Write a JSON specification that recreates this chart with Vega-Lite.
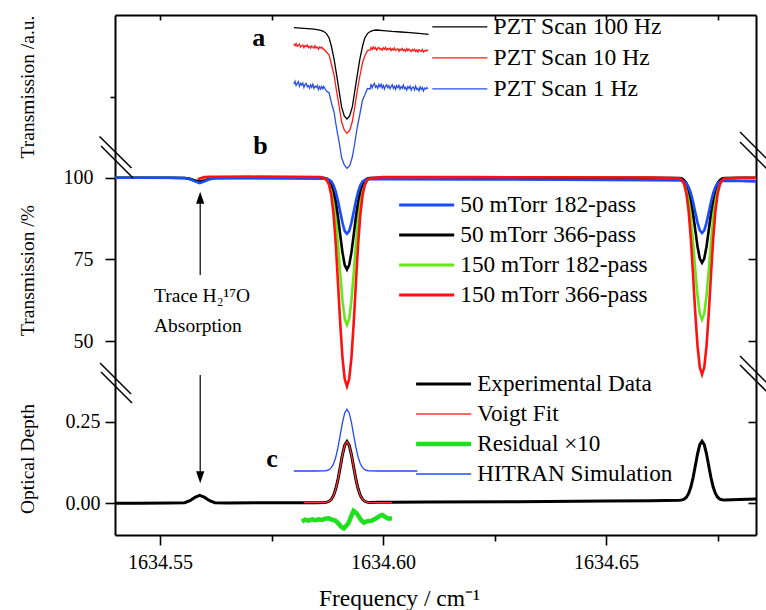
{
"$schema": "https://vega.github.io/schema/vega-lite/v6.json",
"background": "white",
"padding": {"left": 16, "top": 14, "right": 0, "bottom": 0},
"bounds": "flush",
"spacing": 0,
"config": {
  "view": {"stroke": null},
  "font": "Liberation Serif",
  "axis": {"domainColor": "black", "domainWidth": 2, "tickColor": "black", "tickWidth": 1.6, "labelColor": "black", "labelFont": "Liberation Serif", "labelFontSize": 20, "titleFont": "Liberation Serif", "titleFontSize": 19.5, "titleFontWeight": "normal", "titleColor": "black", "grid": false},
  "legend": {"labelFont": "Liberation Serif", "labelFontSize": 23, "labelColor": "black", "symbolType": "M-5,0H5", "symbolSize": 121, "rowPadding": 6, "padding": 0, "labelLimit": 400}
},
"resolve": {"scale": {"color": "independent", "strokeWidth": "independent", "y": "independent", "x": "shared"}, "legend": {"color": "independent", "strokeWidth": "independent"}},
"vconcat": [
{
  "width": 641, "height": 143,
  "data": {"values": [
    {"f":1634.5800,"K":13.03},
    {"f":1634.5815,"K":12.98},
    {"f":1634.5830,"K":12.93},
    {"f":1634.5845,"K":12.88},
    {"f":1634.5855,"K":12.82},
    {"f":1634.5862,"K":12.74},
    {"f":1634.58000,"R":11.42,"B":7.37},
    {"f":1634.58025,"R":11.24,"B":7.67},
    {"f":1634.58050,"R":11.45,"B":7.25},
    {"f":1634.58075,"R":11.16,"B":7.46},
    {"f":1634.58100,"R":11.28,"B":7.64},
    {"f":1634.58125,"R":11.39,"B":7.17},
    {"f":1634.58150,"R":11.10,"B":7.48},
    {"f":1634.58175,"R":11.21,"B":7.29},
    {"f":1634.58200,"R":11.30,"B":7.50},
    {"f":1634.58225,"R":11.03,"B":7.06},
    {"f":1634.58250,"R":11.25,"B":7.36},
    {"f":1634.58275,"R":11.14,"B":7.46},
    {"f":1634.58300,"R":11.29,"B":7.12},
    {"f":1634.58325,"R":11.05,"B":7.24},
    {"f":1634.58350,"R":11.17,"B":6.98},
    {"f":1634.58375,"R":10.98,"B":7.33},
    {"f":1634.58400,"R":11.21,"B":7.08},
    {"f":1634.58425,"R":11.09,"B":7.38},
    {"f":1634.58450,"R":10.99,"B":6.96},
    {"f":1634.58475,"R":11.22,"B":7.17},
    {"f":1634.58500,"R":11.01,"B":7.07},
    {"f":1634.58525,"R":11.10,"B":7.26},
    {"f":1634.58550,"R":10.88,"B":6.84},
    {"f":1634.58575,"R":11.10,"B":7.13},
    {"f":1634.58600,"R":10.99,"B":6.88},
    {"f":1634.58625,"R":11.10,"B":7.16},
    {"f":1634.58650,"R":10.90,"B":6.91},
    {"f":1634.5867,"K":12.64,"R":10.9,"B":7.15},
    {"f":1634.5873,"K":12.44,"R":10.6,"B":6.7},
    {"f":1634.5879,"K":12.00,"R":10.3,"B":6.5},
    {"f":1634.5884,"K":11.20,"R":9.4,"B":5.55},
    {"f":1634.5890,"K":9.91,"R":8.3,"B":4.6},
    {"f":1634.5896,"K":8.26,"R":6.6,"B":2.9},
    {"f":1634.5902,"K":6.54,"R":5.05,"B":1.45},
    {"f":1634.5907,"K":5.11,"R":3.6,"B":0.05},
    {"f":1634.5913,"K":4.21,"R":2.8,"B":-0.7},
    {"f":1634.5919,"K":3.90,"R":2.47,"B":-1.03},
    {"f":1634.5925,"K":4.21,"R":2.75,"B":-0.8},
    {"f":1634.5931,"K":5.11,"R":3.65,"B":0.1},
    {"f":1634.5936,"K":6.54,"R":4.95,"B":1.35},
    {"f":1634.5942,"K":8.26,"R":6.7,"B":3.05},
    {"f":1634.5948,"K":9.91,"R":8.2,"B":4.4},
    {"f":1634.5954,"K":11.20,"R":9.55,"B":5.8},
    {"f":1634.5959,"K":12.00,"R":10.2,"B":6.3},
    {"f":1634.5965,"K":12.44,"R":10.75,"B":6.95},
    {"f":1634.5971,"K":12.64,"R":10.8,"B":6.9},
    {"f":1634.5978,"K":12.76},
    {"f":1634.5985,"K":12.8},
    {"f":1634.6000,"K":12.74},
    {"f":1634.6020,"K":12.66},
    {"f":1634.6040,"K":12.6},
    {"f":1634.6060,"K":12.53},
    {"f":1634.6080,"K":12.46},
    {"f":1634.6102,"K":12.37},
    {"f":1634.59730,"R":11.05,"B":7.38},
    {"f":1634.59755,"R":10.84,"B":7.02},
    {"f":1634.59780,"R":11.11,"B":7.30},
    {"f":1634.59805,"R":10.92,"B":7.45},
    {"f":1634.59830,"R":11.05,"B":7.08},
    {"f":1634.59855,"R":10.79,"B":7.23},
    {"f":1634.59880,"R":10.99,"B":6.97},
    {"f":1634.59905,"R":11.06,"B":7.36},
    {"f":1634.59930,"R":10.85,"B":7.12},
    {"f":1634.59955,"R":10.94,"B":7.38},
    {"f":1634.59980,"R":10.78,"B":7.01},
    {"f":1634.60005,"R":11.02,"B":7.26},
    {"f":1634.60030,"R":10.86,"B":6.90},
    {"f":1634.60055,"R":11.06,"B":7.19},
    {"f":1634.60080,"R":10.79,"B":7.33},
    {"f":1634.60105,"R":10.93,"B":7.04},
    {"f":1634.60130,"R":10.86,"B":7.25},
    {"f":1634.60155,"R":11.00,"B":6.94},
    {"f":1634.60180,"R":10.74,"B":7.13},
    {"f":1634.60205,"R":10.94,"B":7.33},
    {"f":1634.60230,"R":10.80,"B":6.96},
    {"f":1634.60255,"R":11.00,"B":7.16},
    {"f":1634.60280,"R":10.74,"B":6.87},
    {"f":1634.60305,"R":10.86,"B":7.24},
    {"f":1634.60330,"R":10.93,"B":7.04},
    {"f":1634.60355,"R":10.68,"B":7.27},
    {"f":1634.60380,"R":10.89,"B":6.89},
    {"f":1634.60405,"R":10.78,"B":7.14},
    {"f":1634.60430,"R":10.95,"B":6.97},
    {"f":1634.60455,"R":10.72,"B":7.29},
    {"f":1634.60480,"R":10.84,"B":6.92},
    {"f":1634.60505,"R":10.68,"B":7.07},
    {"f":1634.60530,"R":10.95,"B":6.79},
    {"f":1634.60555,"R":10.72,"B":7.15},
    {"f":1634.60580,"R":10.89,"B":6.96},
    {"f":1634.60605,"R":10.77,"B":7.18},
    {"f":1634.60630,"R":10.64,"B":6.80},
    {"f":1634.60655,"R":10.85,"B":7.05},
    {"f":1634.60680,"R":10.72,"B":7.10},
    {"f":1634.60705,"R":10.88,"B":6.81},
    {"f":1634.60730,"R":10.65,"B":7.19},
    {"f":1634.60755,"R":10.80,"B":6.86},
    {"f":1634.60780,"R":10.59,"B":6.96},
    {"f":1634.60805,"R":10.83,"B":6.71},
    {"f":1634.60830,"R":10.75,"B":7.11},
    {"f":1634.60855,"R":10.65,"B":6.86},
    {"f":1634.60880,"R":10.86,"B":7.04},
    {"f":1634.60905,"R":10.60,"B":6.72},
    {"f":1634.60930,"R":10.75,"B":6.99},
    {"f":1634.60955,"R":10.68,"B":6.89},
    {"f":1634.60980,"R":10.81,"B":7.05},
    {"f":1634.61005,"R":10.70,"B":6.92}
  ]},
  "encoding": {"x": {"field": "f", "type": "quantitative", "scale": {"domain": [1634.5399, 1634.6836], "nice": false, "zero": false}, "axis": {"orient": "top", "values": [1634.55, 1634.575, 1634.6, 1634.625, 1634.65, 1634.675], "labels": false, "tickSize": -5, "title": null}}},
  "layer": [
    {
      "transform": [{"fold": ["K", "R", "B"], "as": ["s", "v"]}, {"filter": "isValid(datum.v)"}],
      "mark": {"type": "line", "strokeWidth": 1.3},
      "encoding": {
        "y": {"field": "v", "type": "quantitative", "scale": {"domain": [0, 14.3], "nice": false, "zero": false}, "axis": {"orient": "left", "values": [6.1], "labels": false, "tickSize": 5, "title": "Transmission /a.u.", "titleX": -82, "titleBaseline": "alphabetic"}},
        "color": {"field": "s", "type": "nominal", "scale": {"domain": ["K", "R", "B"], "range": ["#000000", "#ff1a1a", "#2b4fe8"]}, "legend": {"orient": "none", "legendX": 333, "legendY": 0, "title": null, "symbolStrokeWidth": 1.3, "labelOffset": 22, "labelFontSize": 23.6, "labelExpr": "datum.label == 'K' ? 'PZT Scan 100 Hz' : datum.label == 'R' ? 'PZT Scan 10 Hz' : 'PZT Scan 1 Hz'"}}
      }
    },
    {
      "data": {"values": [{"f": 1634.57213, "v": 11.97, "t": "a"}, {"f": 1634.57250, "v": 1.2, "t": "b"}]},
      "mark": {"type": "text", "font": "Liberation Serif", "fontSize": 26, "fontWeight": "bold", "align": "center", "baseline": "middle", "color": "black"},
      "encoding": {
        "y": {"field": "v", "type": "quantitative", "scale": {"domain": [0, 14.3], "nice": false, "zero": false}, "axis": {"orient": "right", "labels": false, "ticks": false, "title": null}},
        "text": {"field": "t"}
      }
    }
  ],
  "resolve": {"axis": {"y": "independent"}}
},
{
  "width": 641, "height": 224,
  "encoding": {"x": {"field": "f", "type": "quantitative", "scale": {"domain": [1634.5399, 1634.6836], "nice": false, "zero": false}, "axis": null}},
  "layer": [
    {
      "data": {"values": [
        {"f":1634.5399,"B":100.0,"K":100.0,"G":100.0},
        {"f":1634.5450,"B":100.0,"K":100.0,"G":100.0},
        {"f":1634.5520,"B":100.0,"K":100.0,"G":99.95},
        {"f":1634.5555,"B":99.95,"K":99.95,"G":99.9},
        {"f":1634.5567,"B":99.6,"K":99.7,"G":99.6},
        {"f":1634.5578,"B":98.9,"K":99.2,"G":99.1},
        {"f":1634.5585,"R":99.5},
        {"f":1634.5589,"B":98.4,"K":98.9,"G":98.7,"R":99.8},
        {"f":1634.5600,"B":98.9,"K":99.2,"G":99.1,"R":100.2},
        {"f":1634.5611,"B":99.6,"K":99.7,"G":99.6,"R":100.3},
        {"f":1634.5623,"B":99.85,"K":99.95,"G":99.85,"R":100.3},
        {"f":1634.5700,"B":99.85,"K":100.1,"G":99.9,"R":100.35},
        {"f":1634.5800,"B":99.8,"K":100.1,"G":99.9,"R":100.3},
        {"f":1634.5860,"B":99.75,"K":100.05,"G":99.85,"R":100.25},
        {"f":1634.5869,"B":99.7,"K":99.9,"G":99.75,"R":99.8},
        {"f":1634.5874,"B":99.6,"K":99.7,"G":99.5,"R":99.2},
        {"f":1634.5879,"B":99.4,"K":99.3,"G":98.7,"R":97.8},
        {"f":1634.5884,"B":98.9,"K":98.2,"G":96.8,"R":94.6},
        {"f":1634.5889,"B":97.7,"K":96.2,"G":93.2,"R":88.8},
        {"f":1634.5894,"B":95.7,"K":92.8,"G":87.4,"R":79.5},
        {"f":1634.5899,"B":92.9,"K":88.0,"G":79.4,"R":67.6},
        {"f":1634.5904,"B":89.5,"K":82.4,"G":70.5,"R":55.2},
        {"f":1634.5909,"B":86.2,"K":77.1,"G":62.4,"R":44.9},
        {"f":1634.5914,"B":83.7,"K":73.3,"G":56.9,"R":38.4},
        {"f":1634.5919,"B":82.9,"K":71.9,"G":55.0,"R":36.2},
        {"f":1634.5924,"B":83.7,"K":73.3,"G":56.9,"R":38.4},
        {"f":1634.5929,"B":86.2,"K":77.1,"G":62.4,"R":44.9},
        {"f":1634.5934,"B":89.5,"K":82.4,"G":70.5,"R":55.2},
        {"f":1634.5939,"B":92.9,"K":88.0,"G":79.4,"R":67.6},
        {"f":1634.5944,"B":95.7,"K":92.8,"G":87.4,"R":79.5},
        {"f":1634.5949,"B":97.7,"K":96.2,"G":93.2,"R":88.8},
        {"f":1634.5954,"B":98.9,"K":98.2,"G":96.8,"R":94.6},
        {"f":1634.5959,"B":99.3,"K":99.3,"G":98.7,"R":97.8},
        {"f":1634.5964,"B":99.55,"K":99.7,"G":99.4,"R":99.2},
        {"f":1634.5969,"B":99.6,"K":99.9,"G":99.7,"R":99.8},
        {"f":1634.6000,"B":99.6,"K":100.1,"G":99.8,"R":100.25},
        {"f":1634.6200,"B":99.5,"K":100.05,"G":99.65,"R":100.2},
        {"f":1634.6400,"B":99.4,"K":100.0,"G":99.55,"R":100.15},
        {"f":1634.6600,"B":99.3,"K":100.0,"G":99.45,"R":100.1},
        {"f":1634.6665,"B":99.2,"K":99.9,"G":99.4,"R":99.85},
        {"f":1634.6670,"B":99.1,"K":99.8,"G":99.1,"R":99.25},
        {"f":1634.6675,"B":98.85,"K":99.3,"G":98.3,"R":98.0},
        {"f":1634.6680,"B":98.3,"K":98.4,"G":96.6,"R":95.1},
        {"f":1634.6685,"B":97.2,"K":96.5,"G":93.3,"R":89.8},
        {"f":1634.6690,"B":95.3,"K":93.4,"G":87.6,"R":81.2},
        {"f":1634.6695,"B":92.6,"K":89.0,"G":80.1,"R":70.1},
        {"f":1634.6700,"B":89.4,"K":83.9,"G":71.6,"R":58.3},
        {"f":1634.6705,"B":86.2,"K":78.9,"G":63.8,"R":48.4},
        {"f":1634.6710,"B":83.9,"K":75.3,"G":58.4,"R":42.0},
        {"f":1634.6715,"B":83.1,"K":74.0,"G":56.6,"R":39.8},
        {"f":1634.6720,"B":83.9,"K":75.3,"G":58.4,"R":42.0},
        {"f":1634.6725,"B":86.2,"K":78.9,"G":63.8,"R":48.4},
        {"f":1634.6730,"B":89.4,"K":83.9,"G":71.6,"R":58.3},
        {"f":1634.6735,"B":92.6,"K":89.0,"G":80.1,"R":70.1},
        {"f":1634.6740,"B":95.3,"K":93.4,"G":87.6,"R":81.2},
        {"f":1634.6745,"B":97.2,"K":96.5,"G":93.3,"R":89.8},
        {"f":1634.6750,"B":98.3,"K":98.4,"G":96.6,"R":95.1},
        {"f":1634.6755,"B":98.8,"K":99.3,"G":98.3,"R":98.0},
        {"f":1634.6760,"B":99.0,"K":99.8,"G":99.1,"R":99.3},
        {"f":1634.6765,"B":99.05,"K":99.9,"G":99.3,"R":99.8},
        {"f":1634.6800,"B":99.0,"K":100.0,"G":99.35,"R":100.0},
        {"f":1634.6836,"B":98.9,"K":100.0,"G":99.3,"R":100.0}
      ]},
      "transform": [{"fold": ["R", "G", "K", "B"], "as": ["s", "v"]}, {"filter": "isValid(datum.v)"}],
      "mark": {"type": "line", "strokeWidth": 2.6},
      "encoding": {
        "y": {"field": "v", "type": "quantitative", "scale": {"domain": [37.5, 106.06], "nice": false, "zero": false}, "axis": {"orient": "left", "values": [50, 75, 100], "tickSize": 10, "labelPadding": 12, "title": "Transmission /%", "titleX": -82, "titleBaseline": "alphabetic"}},
        "color": {"field": "s", "type": "nominal", "scale": {"domain": ["B", "K", "G", "R"], "range": ["#1a4cff", "#000000", "#66e619", "#ff1010"]}, "legend": {"orient": "none", "legendX": 300, "legendY": 35.3, "title": null, "symbolStrokeWidth": 3, "labelOffset": 22, "labelFontSize": 23.3, "labelExpr": "datum.label == 'B' ? '50 mTorr 182-pass' : datum.label == 'K' ? '50 mTorr 366-pass' : datum.label == 'G' ? '150 mTorr 182-pass' : '150 mTorr 366-pass'"}}
      }
    },
    {
      "data": {"values": [
        {"f": 1634.536437, "f2": 1634.543611, "v": 112.64, "v2": 103.0},
        {"f": 1634.536773, "f2": 1634.543947, "v": 109.73, "v2": 99.94},
        {"f": 1634.536549, "f2": 1634.543499, "v": 43.31, "v2": 33.83},
        {"f": 1634.536773, "f2": 1634.543723, "v": 40.56, "v2": 31.07},
        {"f": 1634.680025, "f2": 1634.686302, "v": 114.02, "v2": 105.45},
        {"f": 1634.680025, "f2": 1634.686302, "v": 110.96, "v2": 102.39},
        {"f": 1634.680025, "f2": 1634.686302, "v": 45.46, "v2": 36.89},
        {"f": 1634.680025, "f2": 1634.686302, "v": 42.70, "v2": 34.14}
      ]},
      "mark": {"type": "rule", "color": "black", "strokeWidth": 1.5},
      "encoding": {
        "x2": {"field": "f2"},
        "y": {"field": "v", "type": "quantitative", "scale": {"domain": [37.5, 106.06], "nice": false, "zero": false}, "axis": {"orient": "right", "values": [50, 75, 100], "tickSize": -8, "labels": false, "title": null}},
        "y2": {"field": "v2"}
      }
    },
    {
      "data": {"values": [{"f": 1634.54865, "v": 61.99, "t": "Trace H₂¹⁷O"}, {"f": 1634.54865, "v": 52.9, "t": "Absorption"}]},
      "mark": {"type": "text", "font": "Liberation Serif", "fontSize": 19.5, "align": "left", "baseline": "alphabetic", "color": "black"},
      "encoding": {
        "y": {"field": "v", "type": "quantitative", "scale": {"domain": [37.5, 106.06], "nice": false, "zero": false}, "axis": null},
        "text": {"field": "t"}
      }
    },
    {
      "data": {"values": [{"f": 1634.559, "v": 70.25, "v2": 93.45}]},
      "mark": {"type": "rule", "color": "black", "strokeWidth": 1.2},
      "encoding": {
        "y": {"field": "v", "type": "quantitative", "scale": {"domain": [37.5, 106.06], "nice": false, "zero": false}, "axis": null},
        "y2": {"field": "v2"}
      }
    },
    {
      "data": {"values": [{"f": 1634.559, "v": 93.45}]},
      "mark": {"type": "point", "shape": "M0,-1L0.55,0.6L-0.55,0.6Z", "filled": true, "color": "black", "size": 225, "opacity": 1},
      "encoding": {
        "y": {"field": "v", "type": "quantitative", "scale": {"domain": [37.5, 106.06], "nice": false, "zero": false}, "axis": null}
      }
    }
  ],
  "resolve": {"axis": {"y": "independent"}}
},
{
  "width": 641, "height": 153,
  "encoding": {"x": {"field": "f", "type": "quantitative", "scale": {"domain": [1634.5399, 1634.6836], "nice": false, "zero": false}, "axis": {"orient": "bottom", "values": [1634.55, 1634.575, 1634.6, 1634.625, 1634.65, 1634.675], "labelExpr": "round(datum.value*1000) % 50 == 0 ? format(datum.value, '.2f') : ''", "tickSize": {"condition": {"test": "round(datum.value*1000) % 50 == 0", "value": 10}, "value": 6}, "labelPadding": 7, "labelFlush": false, "labelOverlap": false, "title": "Frequency / cm⁻¹", "titleFontSize": 23.5, "titleX": 284, "titleY": 70, "titleBaseline": "alphabetic", "titleAlign": "center"}}},
  "layer": [
    {
      "data": {"values": [
        {"f":1634.5399,"E":0.000},
        {"f":1634.5450,"E":0.000},
        {"f":1634.5520,"E":0.001},
        {"f":1634.5555,"E":0.002},
        {"f":1634.5567,"E":0.008},
        {"f":1634.5578,"E":0.018},
        {"f":1634.5589,"E":0.024},
        {"f":1634.5600,"E":0.018},
        {"f":1634.5611,"E":0.008},
        {"f":1634.5623,"E":0.002},
        {"f":1634.5650,"E":0.001},
        {"f":1634.5750,"E":0.002},
        {"f":1634.5800,"E":0.002,"H":0.099},
        {"f":1634.5818,"X":-0.056},
        {"f":1634.5822,"E":0.002,"V":0.002,"H":0.099},
        {"f":1634.5825,"X":-0.050},
        {"f":1634.5832,"X":-0.053},
        {"f":1634.5841,"X":-0.049},
        {"f":1634.5848,"X":-0.052},
        {"f":1634.5850,"E":0.002,"V":0.002,"H":0.099},
        {"f":1634.5856,"X":-0.049},
        {"f":1634.5863,"X":-0.051},
        {"f":1634.5869,"E":0.0025,"V":0.0025,"H":0.0995},
        {"f":1634.5870,"X":-0.047},
        {"f":1634.5874,"E":0.0035,"V":0.0035,"H":0.1005},
        {"f":1634.5878,"X":-0.046},
        {"f":1634.5879,"E":0.0061,"V":0.0061,"H":0.1032},
        {"f":1634.5884,"E":0.0121,"V":0.0121,"H":0.1092},
        {"f":1634.5885,"X":-0.050},
        {"f":1634.5889,"E":0.0239,"V":0.0239,"H":0.1211},
        {"f":1634.5893,"X":-0.053},
        {"f":1634.5894,"E":0.0443,"V":0.0443,"H":0.1417},
        {"f":1634.5899,"E":0.0742,"V":0.0742,"H":0.1720},
        {"f":1634.5900,"X":-0.062},
        {"f":1634.5904,"E":0.1114,"V":0.1114,"H":0.2096},
        {"f":1634.5906,"X":-0.072},
        {"f":1634.5909,"E":0.1494,"V":0.1494,"H":0.2480},
        {"f":1634.5912,"X":-0.077},
        {"f":1634.5914,"E":0.1782,"V":0.1782,"H":0.2770},
        {"f":1634.5918,"X":-0.068},
        {"f":1634.5919,"E":0.1890,"V":0.1890,"H":0.2880},
        {"f":1634.5923,"X":-0.059},
        {"f":1634.5924,"E":0.1782,"V":0.1782,"H":0.2770},
        {"f":1634.5929,"E":0.1494,"V":0.1494,"H":0.2480,"X":-0.038},
        {"f":1634.5934,"E":0.1114,"V":0.1114,"H":0.2096,"X":-0.023},
        {"f":1634.5939,"E":0.0742,"V":0.0742,"H":0.1720},
        {"f":1634.5940,"X":-0.030},
        {"f":1634.5944,"E":0.0443,"V":0.0443,"H":0.1417},
        {"f":1634.5946,"X":-0.041},
        {"f":1634.5949,"E":0.0239,"V":0.0239,"H":0.1211},
        {"f":1634.5951,"X":-0.052},
        {"f":1634.5954,"E":0.0121,"V":0.0121,"H":0.1092},
        {"f":1634.5957,"X":-0.059},
        {"f":1634.5959,"E":0.0061,"V":0.0061,"H":0.1032},
        {"f":1634.5964,"E":0.0035,"V":0.0035,"H":0.1005},
        {"f":1634.5965,"X":-0.055},
        {"f":1634.5969,"E":0.0025,"V":0.0025,"H":0.0995},
        {"f":1634.5975,"X":-0.053},
        {"f":1634.5985,"X":-0.046},
        {"f":1634.5990,"E":0.003,"V":0.002,"H":0.099},
        {"f":1634.5993,"X":-0.038},
        {"f":1634.5998,"X":-0.036},
        {"f":1634.6005,"X":-0.042},
        {"f":1634.6012,"X":-0.047},
        {"f":1634.6020,"E":0.003,"V":0.002,"H":0.099,"X":-0.046},
        {"f":1634.6077,"H":0.099},
        {"f":1634.6100,"E":0.004},
        {"f":1634.6300,"E":0.005},
        {"f":1634.6500,"E":0.007},
        {"f":1634.6600,"E":0.008},
        {"f":1634.6665,"E":0.0095},
        {"f":1634.6670,"E":0.0105},
        {"f":1634.6675,"E":0.0130},
        {"f":1634.6680,"E":0.0188},
        {"f":1634.6685,"E":0.0302},
        {"f":1634.6690,"E":0.0499},
        {"f":1634.6695,"E":0.0789},
        {"f":1634.6700,"E":0.1149},
        {"f":1634.6705,"E":0.1516},
        {"f":1634.6710,"E":0.1795},
        {"f":1634.6715,"E":0.1900},
        {"f":1634.6720,"E":0.1795},
        {"f":1634.6725,"E":0.1516},
        {"f":1634.6730,"E":0.1149},
        {"f":1634.6735,"E":0.0789},
        {"f":1634.6740,"E":0.0499},
        {"f":1634.6745,"E":0.0302},
        {"f":1634.6750,"E":0.0188},
        {"f":1634.6755,"E":0.0130},
        {"f":1634.6760,"E":0.0108},
        {"f":1634.6765,"E":0.0100},
        {"f":1634.6800,"E":0.012},
        {"f":1634.6836,"E":0.013}
      ]},
      "transform": [{"fold": ["E", "V", "X", "H"], "as": ["s", "v"]}, {"filter": "isValid(datum.v)"}],
      "mark": {"type": "line"},
      "encoding": {
        "y": {"field": "v", "type": "quantitative", "scale": {"domain": [-0.0971, 0.3716], "nice": false, "zero": false}, "axis": {"orient": "left", "values": [0, 0.25], "format": ".2f", "tickSize": 10, "labelPadding": 5, "title": "Optical Depth", "titleX": -82, "titleBaseline": "alphabetic"}},
        "color": {"field": "s", "type": "nominal", "scale": {"domain": ["E", "V", "X", "H"], "range": ["#000000", "#ff3333", "#1ee01e", "#2248ff"]}, "legend": {"orient": "none", "legendX": 317, "legendY": -9.6, "title": null, "labelOffset": 22, "labelFontSize": 23.2, "labelExpr": "datum.label == 'E' ? 'Experimental Data' : datum.label == 'V' ? 'Voigt Fit' : datum.label == 'X' ? 'Residual ×10' : 'HITRAN Simulation'"}},
        "strokeWidth": {"field": "s", "type": "nominal", "scale": {"type": "ordinal", "domain": ["E", "V", "X", "H"], "range": [3, 1.3, 4.5, 1.3]}, "legend": {"orient": "none", "legendX": 317, "legendY": -9.6, "title": null, "labelOffset": 22, "labelFontSize": 23.2, "labelExpr": "datum.label == 'E' ? 'Experimental Data' : datum.label == 'V' ? 'Voigt Fit' : datum.label == 'X' ? 'Residual ×10' : 'HITRAN Simulation'"}}
      }
    },
    {
      "data": {"values": [{"f": 1634.57511, "v": 0.1357, "t": "c"}]},
      "mark": {"type": "text", "font": "Liberation Serif", "fontSize": 26, "fontWeight": "bold", "align": "center", "baseline": "middle", "color": "black"},
      "encoding": {
        "y": {"field": "v", "type": "quantitative", "scale": {"domain": [-0.0971, 0.3716], "nice": false, "zero": false}, "axis": {"orient": "right", "values": [0, 0.25], "tickSize": -8, "labels": false, "title": null}},
        "text": {"field": "t"}
      }
    },
    {
      "data": {"values": [{"f": 1634.559, "v": 0.393, "v2": 0.0843}]},
      "mark": {"type": "rule", "color": "black", "strokeWidth": 1.2},
      "encoding": {
        "y": {"field": "v", "type": "quantitative", "scale": {"domain": [-0.0971, 0.3716], "nice": false, "zero": false}, "axis": null},
        "y2": {"field": "v2"}
      }
    },
    {
      "data": {"values": [{"f": 1634.559, "v": 0.0843}]},
      "mark": {"type": "point", "shape": "M0,1L0.55,-0.6L-0.55,-0.6Z", "filled": true, "color": "black", "size": 225, "opacity": 1},
      "encoding": {
        "y": {"field": "v", "type": "quantitative", "scale": {"domain": [-0.0971, 0.3716], "nice": false, "zero": false}, "axis": null}
      }
    }
  ],
  "resolve": {"axis": {"y": "independent"}}
}
]
}
